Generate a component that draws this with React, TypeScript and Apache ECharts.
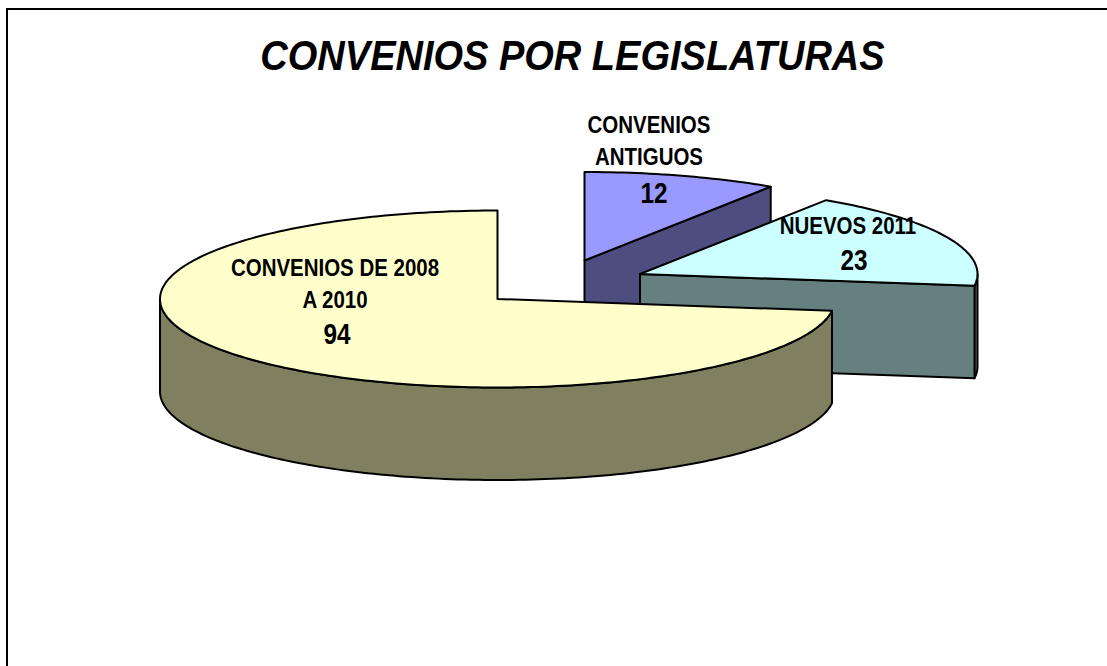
import React, { useEffect, useRef } from "react";
import * as echarts from "echarts";

const titleText = "CONVENIOS POR LEGISLATURAS";
// Clockwise from 12 o'clock, as drawn
const categories = ["CONVENIOS\nANTIGUOS", "NUEVOS 2011", "CONVENIOS DE 2008\nA 2010"];
const seriesValues = [12, 23, 94];
const topColors = ["#9999FF", "#CCFFFF", "#FFFFCC"];
const sideColors = ["#4D4D80", "#668080", "#808060"];

// Layout only: exploded pie centres and label anchors
const centres = [[584.5, 260.5], [640, 274], [497.5, 299]];
const labelAnchors = [[649, 125, 654, 193], [848, 226, 854, 260], [335, 268, 337, 334]];
const drawOrder = [0, 1, 2];
const RX = 337.5;
const RY = 88.5;
const DEPTH = 92.5;
const LABEL_LINE = 32;

const total = seriesValues.reduce((a, b) => a + b, 0);
const rad = (v: number) => (v / total) * Math.PI * 2;

function arcPoints(cx: number, cy: number, a0: number, a1: number, dy = 0) {
  const n = Math.max(2, Math.ceil(Math.abs(a1 - a0) / 0.02));
  const pts: number[][] = [];
  for (let i = 0; i <= n; i++) {
    const a = a0 + ((a1 - a0) * i) / n;
    pts.push([cx + RX * Math.sin(a), cy - RY * Math.cos(a) + dy]);
  }
  return pts;
}

const edge = { stroke: "#000", lineWidth: 2, lineJoin: "round" };

function renderItem(params: any, api: any) {
  const idx = api.value(0) as number;
  const value = api.value(1) as number;
  let start = 0;
  for (let i = 0; i < idx; i++) start += rad(seriesValues[i]);
  const end = start + rad(value);
  const [cx, cy] = centres[idx];
  const children: any[] = [];
  const poly = (points: number[][], fill: string) =>
    children.push({ type: "polygon", shape: { points }, style: { fill, ...edge } });

  // Outer rim: only the front half (90° to 270° clockwise from top)
  const r0 = Math.max(start, Math.PI / 2);
  const r1 = Math.min(end, (Math.PI * 3) / 2);
  if (r1 > r0) {
    poly(
      [...arcPoints(cx, cy, r0, r1), ...arcPoints(cx, cy, r1, r0, DEPTH)],
      sideColors[idx]
    );
  }
  // Cut face at the slice's clockwise end, when it faces the viewer
  if (Math.sin(end) > 0.001) {
    const ex = cx + RX * Math.sin(end);
    const ey = cy - RY * Math.cos(end);
    poly([[cx, cy], [ex, ey], [ex, ey + DEPTH], [cx, cy + DEPTH]], sideColors[idx]);
  }
  // Top face
  poly([[cx, cy], ...arcPoints(cx, cy, start, end)], topColors[idx]);

  // Labels
  const [lx, ly, vx, vy] = labelAnchors[idx];
  categories[idx].split("\n").forEach((line, i) => {
    children.push({
      type: "text",
      x: lx,
      y: ly + i * LABEL_LINE,
      scaleX: 0.89,
      style: {
        text: line,
        fill: "#000",
        font: "bold 23px 'Liberation Sans'",
        align: "center",
        verticalAlign: "middle",
      },
    });
  });
  children.push({
    type: "text",
    x: vx,
    y: vy,
    scaleX: 0.84,
    style: {
      text: String(value),
      fill: "#000",
      font: "bold 29px 'Liberation Sans'",
      align: "center",
      verticalAlign: "middle",
    },
  });
  return { type: "group", children };
}

export default function App() {
  const ref = useRef<HTMLDivElement>(null);
  useEffect(() => {
    document.body.style.margin = "0";
    const chart = echarts.init(ref.current!, null, { renderer: "svg" });
    chart.setOption({
      animation: false,
      backgroundColor: "#fff",
      graphic: [
        {
          type: "polyline",
          shape: { points: [[7, 666], [7, 9], [1107, 9]] },
          style: { stroke: "#000", lineWidth: 2, fill: "none" },
        },
        {
          type: "text",
          x: 572.5,
          y: 55.5,
          scaleX: 0.905,
          style: {
            text: titleText,
            fill: "#000",
            font: "italic bold 42px 'Liberation Sans'",
            align: "center",
            verticalAlign: "middle",
          },
        },
      ],
      series: [
        {
          type: "custom",
          coordinateSystem: "none",
          renderItem,
          clip: false,
          data: drawOrder.map((i) => [i, seriesValues[i]]),
        },
      ],
    });
    return () => chart.dispose();
  }, []);
  return <div ref={ref} style={{ width: 1107, height: 666 }} />;
}
